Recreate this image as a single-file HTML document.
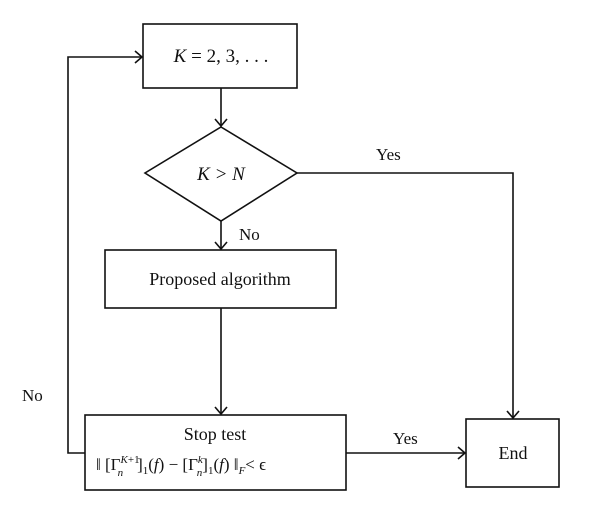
<!DOCTYPE html>
<html><head><style>
body{margin:0;background:#fff;}
svg text{font-family:"Liberation Serif",serif;fill:#111;}
</style></head><body>
<svg width="600" height="513" viewBox="0 0 600 513" xmlns="http://www.w3.org/2000/svg">
<g stroke="#111" stroke-width="1.6" fill="none">
<rect x="143" y="24" width="154" height="64"/>
<polygon points="221,127 297,173 221,221 145,173"/>
<rect x="105" y="250" width="231" height="58"/>
<rect x="85" y="415" width="261" height="75"/>
<rect x="466" y="419" width="93" height="68"/>
<line x1="221" y1="88" x2="221" y2="126"/>
<polyline points="215,119 221,126 227,119"/>
<line x1="221" y1="221" x2="221" y2="249"/>
<polyline points="215,242 221,249 227,242"/>
<line x1="221" y1="308" x2="221" y2="414"/>
<polyline points="215,407 221,414 227,407"/>
<polyline points="85,453 68,453 68,57 142,57"/>
<polyline points="135,51 142,57 135,63"/>
<polyline points="297,173 513,173 513,418"/>
<polyline points="507,411 513,418 519,411"/>
<line x1="346" y1="453" x2="465" y2="453"/>
<polyline points="458,447 465,453 458,459"/>
</g>
<text x="221" y="62" font-size="19" text-anchor="middle"><tspan font-style="italic">K</tspan> = 2, 3, . . .</text>
<text x="221" y="180" font-size="19" text-anchor="middle" font-style="italic">K &gt; N</text>
<text x="239" y="240" font-size="17">No</text>
<text x="220" y="285" font-size="18" text-anchor="middle">Proposed algorithm</text>
<text x="215" y="440" font-size="18" text-anchor="middle">Stop test</text>
<text x="96" y="470" font-size="17">‖ [Γ<tspan font-style="italic" font-size="11" dy="-7">K</tspan><tspan font-size="11">+1</tspan><tspan font-style="italic" font-size="11" dx="-22" dy="13">n</tspan><tspan dx="14" dy="-6">]</tspan><tspan font-size="11" dy="4">1</tspan><tspan dy="-4">(</tspan><tspan font-style="italic">f</tspan>) − [Γ<tspan font-style="italic" font-size="11" dy="-7">k</tspan><tspan font-style="italic" font-size="11" dx="-6" dy="13">n</tspan><tspan dy="-6">]</tspan><tspan font-size="11" dy="4">1</tspan><tspan dy="-4">(</tspan><tspan font-style="italic">f</tspan>) ‖<tspan font-style="italic" font-size="11" dy="4">F</tspan><tspan dy="-4">&lt; ϵ</tspan></text>
<text x="513" y="459" font-size="18" text-anchor="middle">End</text>
<text x="376" y="160" font-size="17">Yes</text>
<text x="393" y="444" font-size="17">Yes</text>
<text x="22" y="401" font-size="17">No</text>
</svg>
</body></html>
